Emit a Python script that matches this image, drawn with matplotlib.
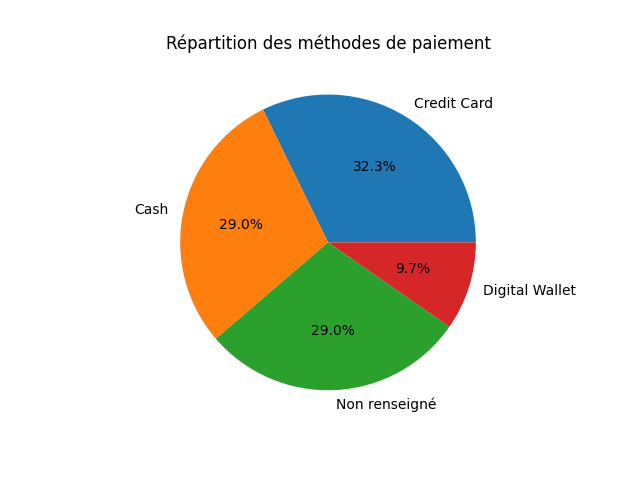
import matplotlib
matplotlib.use("Agg")
import matplotlib.pyplot as plt

labels = ["Credit Card", "Cash", "Non renseigné", "Digital Wallet"]
counts = [10, 9, 9, 3]

fig, ax = plt.subplots(figsize=(6.4, 4.8), dpi=100)
ax.pie(counts, labels=labels, autopct="%1.1f%%")
ax.set_title("Répartition des méthodes de paiement")
fig.savefig("out.png")
